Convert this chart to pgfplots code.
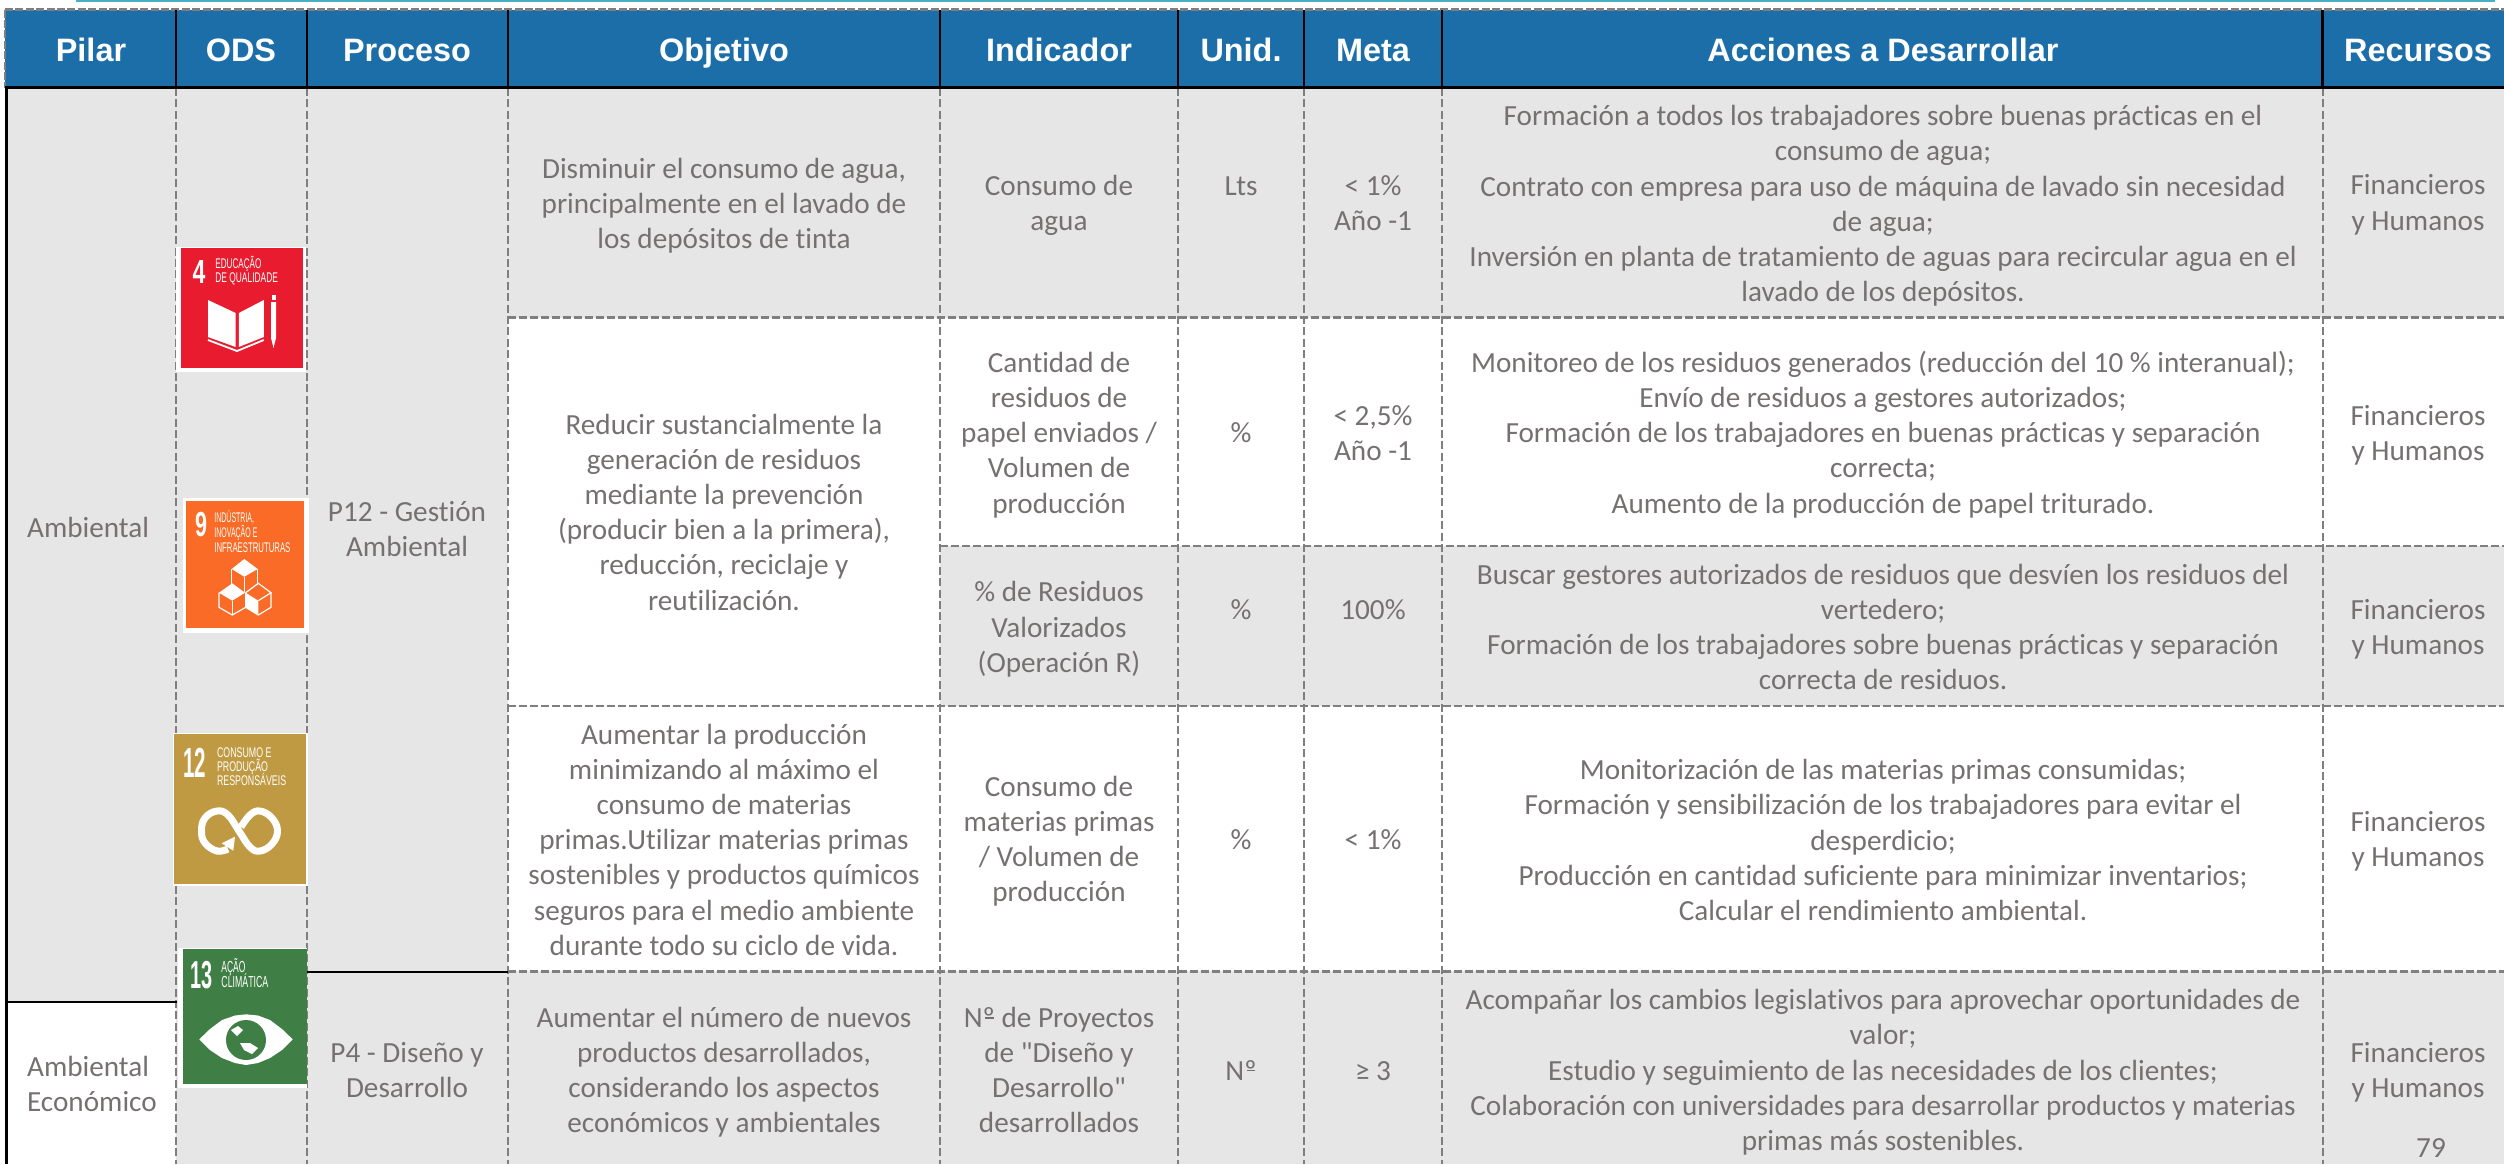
\documentclass[border=0pt]{standalone}
\usepackage{fontspec}
\usepackage{graphicx}
\usepackage{pgfplots}
\pgfplotsset{compat=1.18}
\setmainfont{Carlito}[Ligatures=NoCommon]
\newfontfamily\plainf{Carlito}[Ligatures=NoCommon]
\newfontfamily\hdr{Liberation Sans}
\definecolor{hblue}{HTML}{1C6EA8}
\definecolor{cellg}{HTML}{E6E6E6}
\definecolor{dashg}{HTML}{7F7F7F}
\definecolor{txtg}{HTML}{767171}
\definecolor{tealt}{HTML}{4BACC6}
\definecolor{sdgred}{HTML}{E81C2E}
\definecolor{sdgor}{HTML}{F96B26}
\definecolor{sdggold}{HTML}{BF9A42}
\definecolor{sdggreen}{HTML}{3F7E44}
\newcommand{\No}{Nº\kern-.34em\rule[.3em]{.3em}{.05em}\kern.04em}
\newcommand{\poly}[2]{\addplot[fill=#1,draw=none] coordinates {#2} -- cycle;}
\newcommand{\seg}[2]{\addplot[#1] coordinates {#2};}
\newcommand{\hd}[2]{\node[inner sep=0,anchor=base,text=white,font=\hdr\bfseries\fontsize{16.2}{19}\selectfont] at (axis cs:#1,61) {#2};}
\newcommand{\tx}[3]{\node[inner sep=0,yshift=-1pt,align=center,text=txtg,font=\fontsize{14.6}{17.6}\selectfont] at (axis cs:#1,#2) {\strut #3\strut};}
\newcommand{\txl}[3]{\node[inner sep=0,yshift=-1pt,align=left,anchor=west,text=txtg,font=\fontsize{14.6}{17.6}\selectfont] at (axis cs:#1,#2) {\strut #3\strut};}
% x, baseline y, size(pt), xscale, text
\newcommand{\ico}[5]{\node[inner sep=0,anchor=base west,text=white] at (axis cs:#1,#2) {\hdr\fontsize{#3}{#3}\selectfont\scalebox{#4}[1]{#5}};}
\newcommand{\bign}[5]{\node[inner sep=0,anchor=base,text=white] at (axis cs:#1,#2) {\hdr\bfseries\fontsize{#3}{#3}\selectfont\scalebox{#4}[1]{#5}};}
\tikzset{vdash/.style={dashg,line width=1pt,dash pattern=on 4pt off 1.7pt},
         hdash/.style={dashg,line width=1.25pt,dash pattern=on 4pt off 1.5pt},
         blk/.style={black,line width=1.1pt}}
\begin{document}
\begin{tikzpicture}
\begin{axis}[scale only axis,width=1252pt,height=582pt,xmin=0,xmax=2504,ymin=0,ymax=1164,y dir=reverse,hide axis]
% background
\poly{white}{(0,0)(2504,0)(2504,1164)(0,1164)}
\seg{tealt,line width=1.2pt}{(75.5,1)(2495,1)}
% header
\poly{hblue}{(5,10)(2504,10)(2504,88)(5,88)}
% fills
\poly{cellg}{(6,88)(507.7,88)(507.7,1164)(6,1164)}
\poly{white}{(6,1002)(175.7,1002)(175.7,1164)(6,1164)}
\poly{cellg}{(507.7,88)(2504,88)(2504,317.6)(507.7,317.6)}
\poly{cellg}{(940,546)(2504,546)(2504,706)(940,706)}
\poly{cellg}{(507.7,971.4)(2504,971.4)(2504,1164)(507.7,1164)}
% top / left header dashed edges
\seg{dashg,line width=1.3pt,dash pattern=on 4pt off 1.2pt}{(5,9.5)(2504,9.5)}
\seg{dashg,line width=1.3pt,dash pattern=on 4pt off 1.2pt}{(5,9.5)(5,88)}
% dashed grid
\seg{vdash}{(175.7,88)(175.7,1164)}
\seg{vdash}{(307,88)(307,1164)}
\seg{vdash}{(507.7,88)(507.7,1164)}
\seg{vdash}{(940,88)(940,1164)}
\seg{vdash}{(1178,88)(1178,1164)}
\seg{vdash}{(1304.2,88)(1304.2,1164)}
\seg{vdash}{(1442.3,88)(1442.3,1164)}
\seg{vdash}{(2322.5,88)(2322.5,1164)}
\seg{hdash}{(507.7,317.6)(2504,317.6)}
\seg{hdash}{(940,546)(2504,546)}
\seg{hdash}{(507.7,706)(2504,706)}
\seg{hdash}{(507.7,971.4)(2504,971.4)}
% black rules
\seg{blk}{(175.7,10)(175.7,88)}
\seg{blk}{(307,10)(307,88)}
\seg{blk}{(507.7,10)(507.7,88)}
\seg{blk}{(940,10)(940,88)}
\seg{blk}{(1178,10)(1178,88)}
\seg{blk}{(1304.2,10)(1304.2,88)}
\seg{blk}{(1442.3,10)(1442.3,88)}
\seg{blk}{(2322.5,10)(2322.5,88)}
\seg{black,line width=1.6pt}{(5,87.5)(2504,87.5)}
\seg{black,line width=1.3pt}{(6.5,88)(6.5,1164)}
\seg{black,line width=1.2pt}{(6,1001.7)(177,1001.7)}
\seg{black,line width=1.2pt}{(307,971.7)(507.7,971.7)}
% SDG 4
\poly{white}{(176,246.7)(306,246.7)(306,371.7)(176,371.7)}
\poly{sdgred}{(181,248)(302.5,248)(302.5,368)(181,368)}
\bign{199}{283.3}{16.7}{.69}{4}
\ico{215}{268}{7}{.58}{EDUCAÇÃO}
\ico{215}{282}{7}{.6}{DE QUALIDADE}
\poly{white}{(208,300)(235.7,313)(235.7,347)(208,337)}
\poly{white}{(238.8,313)(263.8,300)(263.8,337)(238.8,347)}
\seg{white,line width=.9pt}{(208,340)(237,351)(263.8,340)}
\poly{white}{(271,302)(276,302)(276,338)(273.5,348)(271,338)}
\poly{white}{(271.5,295)(275.5,295)(275.5,300)(271.5,300)}
% SDG 9
\poly{white}{(183,498)(309,498)(309,633)(183,633)}
\poly{sdgor}{(185.7,501)(304,501)(304,628)(185.7,628)}
\bign{201}{536.7}{17.4}{.62}{9}
\ico{214}{522}{7}{.5}{INDÚSTRIA,}
\ico{214}{537}{7}{.5}{INOVAÇÃO E}
\ico{214}{552}{7}{.555}{INFRAESTRUTURAS}
\poly{white}{(244.3,559)(257.7,569)(244.3,576.7)(231.7,569)}
\poly{white}{(232.3,583.3)(245,592.7)(232.3,600.7)(219,592.7)}
\poly{white}{(245.7,592.7)(258.3,600.7)(258.3,615)(245.7,607.3)}
\seg{white,line width=.6pt}{(231.7,569)(231.7,585)}
\seg{white,line width=.6pt}{(257.7,569)(257.7,585)}
\seg{white,line width=.6pt}{(244.3,576.7)(244.3,592)}
\seg{white,line width=.6pt}{(219,592.7)(219,607.3)(232.3,615)(245.7,607.3)(245.7,592.7)}
\seg{white,line width=.6pt}{(232.3,600.7)(232.3,615)}
\seg{white,line width=.6pt}{(245.7,592.7)(258.3,583.3)(271,592.7)(258.3,600.7)}
\seg{white,line width=.6pt}{(271,592.7)(271,607.3)(258.3,615)(245.7,607.3)}
% SDG 12
\poly{white}{(173,733)(308,733)(308,886)(173,886)}
\poly{sdggold}{(174,734.3)(306,734.3)(306,884)(174,884)}
\bign{195}{777.3}{21}{.49}{12}
\ico{216.7}{757}{7}{.63}{CONSUMO E}
\ico{216.7}{771}{7}{.63}{PRODUÇÃO}
\ico{216.7}{785}{7}{.63}{RESPONSÁVEIS}
\addplot[white,line width=3.5pt,smooth,tension=.7] coordinates {(228,849)(217,851)(205,843)(201.5,831)(205,818)(217,811)(228,815)(239,831)(250,847)(260,851)(272,844)(277.5,831)(272,818)(260,811)(250,815)(241,827)};
\poly{white}{(221.7,843.3)(235,836.7)(233.3,850.7)}
% SDG 13
\poly{white}{(178.3,948)(307,948)(307,1087.7)(178.3,1087.7)}
\poly{sdggreen}{(182.7,949.3)(307,949.3)(307,1084.3)(182.7,1084.3)}
\bign{201.7}{988}{19.5}{.51}{13}
\ico{221}{972}{8}{.53}{AÇÃO}
\ico{221}{987.5}{8}{.55}{CLIMÁTICA}
\poly{white}{(199.3,1039.3)(210,1029)(222,1020)(235,1015.5)(246,1014.3)(258,1015.5)(270,1020)(282,1029)(292.7,1039.3)(282,1050)(270,1058)(258,1063)(246,1065)(235,1063)(222,1058)(210,1050)}
\fill[sdggreen] (axis cs:246,1040) circle[radius=10pt];
\poly{white}{(231,1030)(238,1026)(243,1030)(237,1036)}
\poly{white}{(240,1043)(250,1043)(258,1048)(252,1054)(244,1050)}
% headers
\hd{91}{Pilar}
\hd{241}{ODS}
\hd{407}{Proceso}
\hd{724}{Objetivo}
\hd{1059}{Indicador}
\hd{1241}{Unid.}
\hd{1373}{Meta}
\hd{1883}{Acciones a Desarrollar}
\hd{2418}{Recursos}
% Pilar
\txl{26.7}{528}{Ambiental}
\txl{26.7}{1085}{Ambiental\\Económico}
% Proceso
\tx{407}{530}{P12 - Gestión\\Ambiental}
\tx{407}{1071}{P4 - Diseño y\\Desarrollo}
% Objetivo
\tx{724}{204.4}{Disminuir el consumo de agua,\\principalmente en el lavado de\\los depósitos de tinta}
\tx{724}{513}{Reducir sustancialmente la\\generación de residuos\\mediante la prevención\\(producir bien a la primera),\\reducción, reciclaje y\\reutilización.}
\tx{724}{840.7}{Aumentar la producción\\minimizando al máximo el\\consumo de materias\\primas.Utilizar materias primas\\sostenibles y productos químicos\\seguros para el medio ambiente\\durante todo su ciclo de vida.}
\tx{724}{1071}{Aumentar el número de nuevos\\productos desarrollados,\\considerando los aspectos\\económicos y ambientales}
% Indicador
\tx{1059}{204}{Consumo de\\agua}
\tx{1059}{433.6}{Cantidad de\\residuos de\\papel enviados /\\Volumen de\\producción}
\tx{1059}{628}{\% de Residuos\\Valorizados\\(Operación R)}
\tx{1059}{840}{Consumo de\\materias primas\\/ Volumen de\\producción}
\tx{1059}{1071}{\No{} de Proyectos\\de {\plainf"}Diseño y\\Desarrollo{\plainf"}\\desarrollados}
% Unid
\tx{1241}{186}{Lts}
\tx{1241}{433}{\%}
\tx{1241}{610}{\%}
\tx{1241}{840}{\%}
\tx{1241}{1071}{\No}
% Meta
\tx{1373}{204}{< 1\%\\Año -1}
\tx{1373}{433.6}{< 2,5\%\\Año -1}
\tx{1373}{610}{100\%}
\tx{1373}{840}{< 1\%}
\tx{1373}{1071}{≥ 3}
% Acciones
\tx{1883}{204.7}{Formación a todos los trabajadores sobre buenas prácticas en el\\consumo de agua;\\Contrato con empresa para uso de máquina de lavado sin necesidad\\de agua;\\Inversión en planta de tratamiento de aguas para recircular agua en el\\lavado de los depósitos.}
\tx{1883}{433.6}{Monitoreo de los residuos generados (reducción del 10 \% interanual);\\Envío de residuos a gestores autorizados;\\Formación de los trabajadores en buenas prácticas y separación\\correcta;\\Aumento de la producción de papel triturado.}
\tx{1883}{628}{Buscar gestores autorizados de residuos que desvíen los residuos del\\vertedero;\\Formación de los trabajadores sobre buenas prácticas y separación\\correcta de residuos.}
\tx{1883}{841}{Monitorización de las materias primas consumidas;\\Formación y sensibilización de los trabajadores para evitar el\\desperdicio;\\Producción en cantidad suficiente para minimizar inventarios;\\Calcular el rendimiento ambiental.}
\tx{1883}{1071}{Acompañar los cambios legislativos para aprovechar oportunidades de\\valor;\\Estudio y seguimiento de las necesidades de los clientes;\\Colaboración con universidades para desarrollar productos y materias\\primas más sostenibles.}
% Recursos
\tx{2418}{203.5}{Financieros\\y Humanos}
\tx{2418}{433.6}{Financieros\\y Humanos}
\tx{2418}{628}{Financieros\\y Humanos}
\tx{2418}{840}{Financieros\\y Humanos}
\tx{2418}{1071}{Financieros\\y Humanos}
\tx{2431}{1148}{79}
\end{axis}
\end{tikzpicture}
\end{document}
